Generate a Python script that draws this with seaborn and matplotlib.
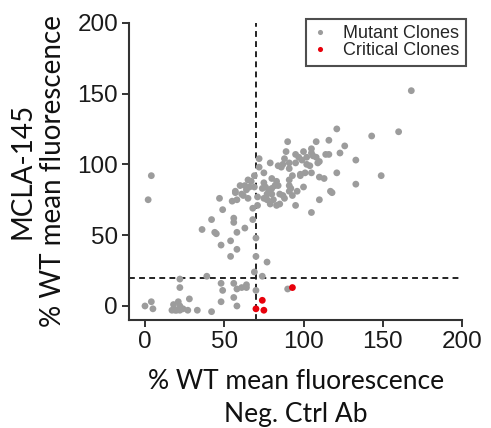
import matplotlib
matplotlib.use("Agg")
import matplotlib.pyplot as plt
import seaborn as sns
import pandas as pd

# ---- data ----
mutant_x = [168, 160, 143, 121, 149, 133, 133, 126, 118, 4, 2,
            90, 108, 116, 89, 100, 105, 95, 97, 106, 116, 123, 79, 84, 87, 91, 95, 102, 110,
            72, 72, 75, 86, 91, 93, 98, 105, 110, 113, 121, 63, 67, 57, 47,
            88, 99, 102, 105, 108, 109, 104, 114, 98, 101, 91, 92, 96, 91, 83, 82, 80, 77, 80,
            85, 87, 75, 74, 75, 77, 79, 81, 83, 85, 69, 65, 60, 57, 61, 64, 66, 69, 55, 58, 62,
            65, 71, 71, 68, 95, 110, 105, 117, 100, 84, 91, 78, 88, 93, 80, 76,
            42, 49, 56, 56, 36, 44, 45, 58, 63, 68, 70, 48, 54, 58, 54, 70, 77, 39, 74, 69,
            22, 22, 48, 49, 56, 58, 61, 64, 64, 70, 56, 48, 58, 28, 42, 33, 27, 22, 21,
            0, 4, 5, 17, 19, 20, 22, 24, 18, 90]
mutant_y = [152, 123, 120, 125, 92, 86, 103, 113, 80, 92, 75,
            116, 116, 117, 109, 109, 111, 107, 105, 106, 107, 108, 101, 99, 100, 101, 101, 100, 102,
            104, 98, 94, 98, 97, 92, 93, 94, 91, 90, 94, 85, 88, 80, 76,
            104, 103, 105, 108, 105, 101, 99, 107, 92, 94, 89, 83, 81, 81, 88, 85, 83, 79, 79,
            79, 78, 87, 83, 76, 75, 72, 75, 71, 72, 92, 89, 85, 81, 79, 82, 84, 84, 74, 75, 78,
            76, 77, 71, 69, 71, 75, 66, 81, 84, 85, 85, 82, 76, 78, 90, 84,
            61, 68, 62, 59, 54, 52, 51, 52, 55, 61, 48, 43, 46, 40, 35, 35, 31, 21, 21, 24,
            19, 13, 16, 11, 16, 12, 13, 13, 15, 11, 6, 3, 0, 5, -4, -3, -3, 0, 3,
            0, 3, -2, -3, -3, -3, -3, -2, 1, 12]
critical_x = [74, 70, 75, 93]
critical_y = [4, -2, -3, 13]
groups = ["Mutant Clones", "Critical Clones"]
x_ticks = [0, 50, 100, 150, 200]
y_ticks = [0, 50, 100, 150, 200]
x_label = "% WT mean fluorescence\nNeg. Ctrl Ab"
y_label = "MCLA-145\n% WT mean fluorescence"
x_cut = 70
y_cut = 20

df = pd.DataFrame({
    "x": mutant_x + critical_x,
    "y": mutant_y + critical_y,
    "group": [groups[0]] * len(mutant_x) + [groups[1]] * len(critical_x),
})

sns.set_style("ticks")
plt.rcParams["font.family"] = ["Liberation Sans", "DejaVu Sans"]

fig = plt.figure(figsize=(4.91, 4.28), dpi=100)
ax = fig.add_axes([0.263, 0.252, 0.678, 0.695])

sns.scatterplot(data=df, x="x", y="y", hue="group",
                palette={groups[0]: "#9c9c9c", groups[1]: "#e8000b"},
                s=24, linewidth=0, ax=ax, zorder=3)

ax.axvline(x_cut, color="#222222", lw=1.4, ls=(0, (3, 2.2)), zorder=2)
ax.axhline(y_cut, color="#222222", lw=1.4, ls=(0, (3, 2.2)), zorder=2)

ax.set_xlim(-10, 200)
ax.set_ylim(-10, 200)
ax.set_xticks(x_ticks)
ax.set_yticks(y_ticks)
ax.tick_params(labelsize=17.5, length=5, width=1.4, color="#333333", pad=3)
for lab in ax.get_xticklabels() + ax.get_yticklabels():
    lab.set_color("#1a1a1a")
sns.despine(ax=ax)
for sp in ["left", "bottom"]:
    ax.spines[sp].set_linewidth(1.5)
    ax.spines[sp].set_color("#333333")

ax.set_xlabel(x_label, fontsize=19, family=["Lato", "DejaVu Sans"], linespacing=1.4,
              color="#111111")
ax.set_ylabel(y_label, fontsize=20, family=["Lato", "DejaVu Sans"], linespacing=1.22,
              color="#111111")
ax.xaxis.set_label_coords(0.5, -0.165)
ax.yaxis.set_label_coords(-0.19, 0.5)

leg = ax.legend(loc="upper right", bbox_to_anchor=(1.012, 1.012), fontsize=13,
                frameon=True, fancybox=False, markerscale=0.75, handletextpad=0.9,
                borderpad=0.35, labelspacing=0.0, handlelength=0.8, borderaxespad=0)
leg.get_frame().set_edgecolor("#222222")
leg.get_frame().set_linewidth(1.5)

fig.savefig("out.png", dpi=100)
